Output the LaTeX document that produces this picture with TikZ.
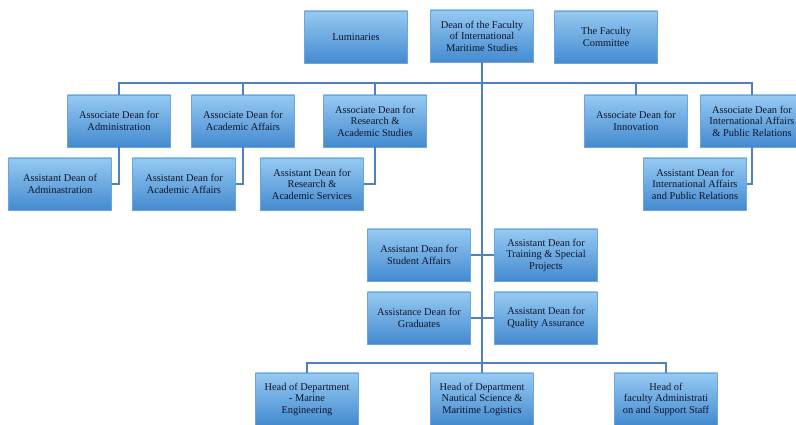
\documentclass[tikz,border=0pt]{standalone}
\usepackage{fontspec}
\setmainfont{Liberation Serif}
\definecolor{linkblue}{RGB}{79,129,189}
\definecolor{boxtop}{RGB}{150,202,242}
\definecolor{boxbot}{RGB}{68,138,208}
\definecolor{boxedge}{RGB}{110,165,220}
\definecolor{boxtext}{RGB}{15,20,40}
\begin{document}
\begin{tikzpicture}[
    x=0.025cm, y=-0.025cm,
    unit/.style={rectangle, draw=boxedge, line width=0.6pt, top color=boxtop, bottom color=boxbot,
      minimum width=2.575cm, minimum height=1.3cm, inner sep=1pt, align=center,
      text=boxtext, font=\fontsize{7.4}{8.2}\selectfont},
    link/.style={draw=linkblue, line width=1.8pt}
  ]
  \clip (0,0) rectangle (796,425);

  % Top row
  \node[unit] (lum) at (356,37) {Luminaries};
  \node[unit] (dean) at (482,36) {Dean of the Faculty\\of International\\Maritime Studies};
  \node[unit] (fcom) at (606,37) {The Faculty\\Committee};

  % Associate deans
  \node[unit] (aadm) at (119,121) {Associate Dean for\\Administration};
  \node[unit] (aacad) at (243,121) {Associate Dean for\\Academic Affairs};
  \node[unit] (ares) at (375,121) {Associate Dean for\\Research \&\\Academic Studies};
  \node[unit] (ainno) at (636,121) {Associate Dean for\\Innovation};
  \node[unit] (aintl) at (752,121) {Associate Dean for\\International Affairs\\\& Public Relations};

  % Assistant deans under associates
  \node[unit] (sadm) at (60,184) {Assistant Dean of\\Adminastration};
  \node[unit] (sacad) at (184,184) {Assistant Dean for\\Academic Affairs};
  \node[unit] (sres) at (312,184) {Assistant Dean for\\Research \&\\Academic Services};
  \node[unit] (sintl) at (695,184) {Assistant Dean for\\International Affairs\\and Public Relations};

  % Assistant deans on the trunk
  \node[unit] (sstu) at (419,255) {Assistant Dean for\\Student Affairs};
  \node[unit] (strain) at (546,255) {Assistant Dean for\\Training \& Special\\Projects};
  \node[unit] (sgrad) at (419,318) {Assistance Dean for\\Graduates};
  \node[unit] (squal) at (546,318) {Assistant Dean for\\Quality Assurance};

  % Heads
  \node[unit] (hmar) at (307,399) {Head of Department\\- Marine\\Engineering};
  \node[unit] (naut) at (482,399) {Head of Department\\Nautical Science \&\\Maritime Logistics};
  \node[unit] (hfac) at (666,399) {Head of\\faculty Administrati\\on and Support Staff};

  % Connections
  \coordinate (top-bar) at (482,83);
  \coordinate (bot-bar) at (482,363);
  \draw[link] (dean.south) -- (naut.north);
  \foreach \n in {aadm,aacad,ares,ainno,aintl}
    \draw[link] (top-bar) -| (\n.north);
  \foreach \n in {hmar,hfac}
    \draw[link] (bot-bar) -| (\n.north);
  \draw[link] (aadm.south) |- (sadm.east);
  \draw[link] (aacad.south) |- (sacad.east);
  \draw[link] (ares.south) |- (sres.east);
  \draw[link] (aintl.south) |- (sintl.east);
  \draw[link] (sstu.east) -- (strain.west);
  \draw[link] (sgrad.east) -- (squal.west);

\end{tikzpicture}
\end{document}
